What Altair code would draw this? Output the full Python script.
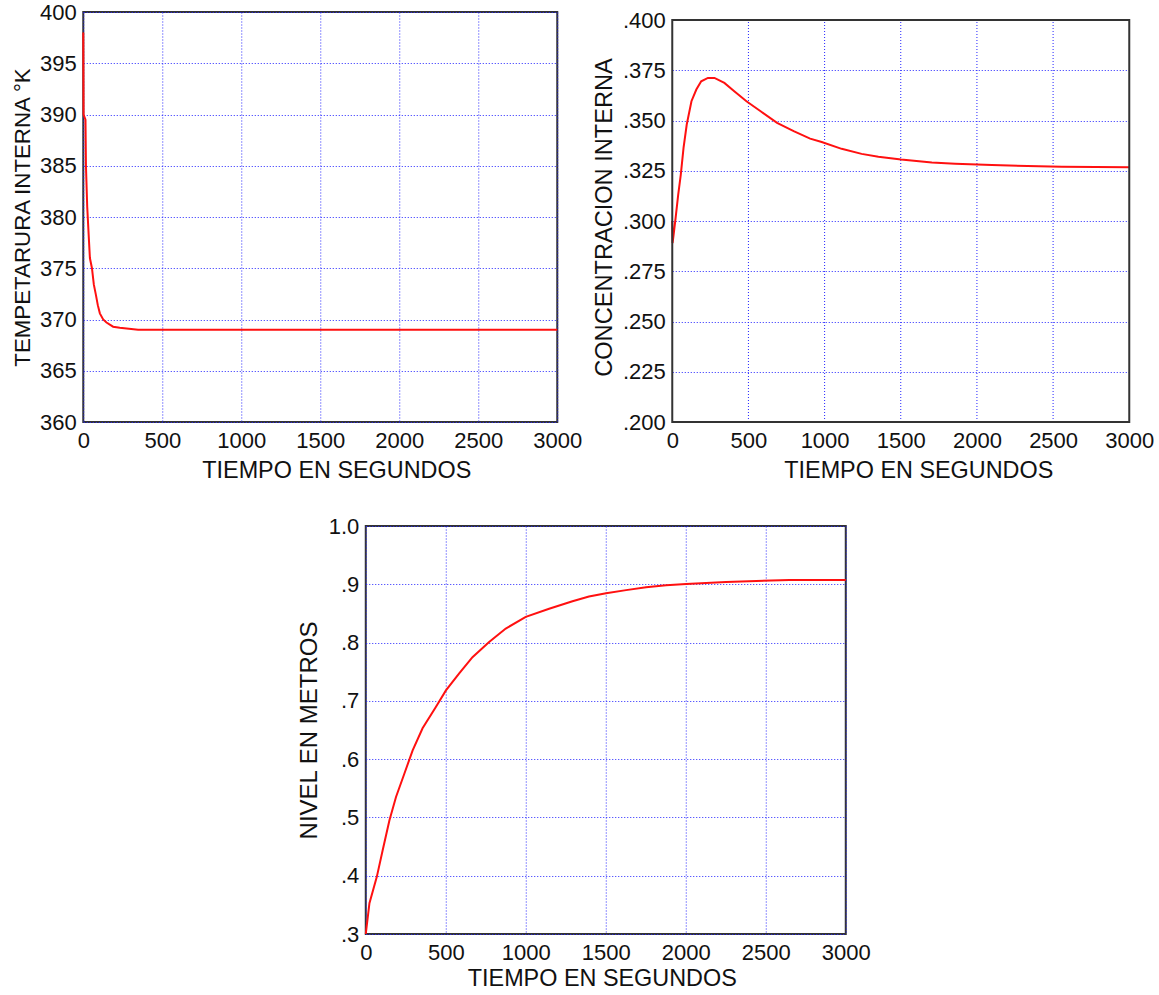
import altair as alt
import pandas as pd

# ---- data ----
temp_t = [0, 2, 14, 17, 25, 34, 42, 55, 67, 80, 92, 105, 126, 147, 189, 231, 347, 3000]
temp_v = [398.0, 390.0, 389.5, 385.0, 381.0, 378.3, 376.0, 375.0, 373.4, 372.4, 371.4, 370.6,
          370.0, 369.7, 369.3, 369.2, 369.0, 369.0]

conc_t = [0, 2, 9, 22, 39, 56, 74, 95, 126, 158, 190, 234, 277, 342, 407, 487, 580, 688, 797,
          905, 981, 1112, 1243, 1353, 1502, 1704, 1857, 2098, 2558, 3000]
conc_v = [0.300, 0.289, 0.2932, 0.3015, 0.3131, 0.3231, 0.3364, 0.348, 0.3596, 0.3654, 0.3695,
          0.3712, 0.3712, 0.3687, 0.3646, 0.3596, 0.3546, 0.3488, 0.3447, 0.341, 0.3393, 0.3359,
          0.3334, 0.332, 0.3306, 0.3291, 0.3285, 0.3278, 0.3270, 0.3267]

level_t = [0, 23, 69, 106, 148, 189, 241, 293, 355, 439, 501, 584, 667, 771, 875, 1000, 1146,
           1292, 1395, 1502, 1627, 1752, 1877, 2002, 2252, 2648, 3000]
level_v = [0.30, 0.353, 0.398, 0.444, 0.495, 0.535, 0.575, 0.615, 0.653, 0.690, 0.718, 0.747,
           0.775, 0.801, 0.824, 0.844, 0.858, 0.871, 0.879, 0.8846, 0.890, 0.8949, 0.8983,
           0.9006, 0.904, 0.9074, 0.9074]

x_ticks = [0, 500, 1000, 1500, 2000, 2500, 3000]
temp_ticks = [360, 365, 370, 375, 380, 385, 390, 395, 400]
conc_ticks = [0.200, 0.225, 0.250, 0.275, 0.300, 0.325, 0.350, 0.375, 0.400]
level_ticks = [0.3, 0.4, 0.5, 0.6, 0.7, 0.8, 0.9, 1.0]

x_title = "TIEMPO EN SEGUNDOS"
FONT = "Liberation Sans"
GRID = "#2424ff"
FRAME = "#333333"
RED = "#ff1010"


def panel(t, v, ytitle, domain, ticks, label_expr, w, h, ytitle_pad, ytitle_size, xtitle_x,
          xtitle_pad):
    df = pd.DataFrame({"t": t, "v": v, "i": list(range(len(t)))})
    return alt.Chart(df).mark_line(color=RED, strokeWidth=2).encode(
        x=alt.X("t:Q", scale=alt.Scale(domain=[0, 3000], nice=False),
                axis=alt.Axis(values=x_ticks, title=x_title, format="d", titleX=xtitle_x,
                              titlePadding=xtitle_pad)),
        y=alt.Y("v:Q", scale=alt.Scale(domain=domain, nice=False, zero=False),
                axis=alt.Axis(values=ticks, title=ytitle, labelExpr=label_expr,
                              titlePadding=ytitle_pad, titleFontSize=ytitle_size)),
        order="i:Q",
    ).properties(width=w, height=h)


c_temp = panel(temp_t, temp_v, "TEMPETARURA INTERNA °K", [360, 400], temp_ticks,
               "format(datum.value, 'd')", 474, 410, 5, 22.3, 253, 8)
c_level = panel(level_t, level_v, "NIVEL EN METROS", [0.3, 1.0], level_ticks,
                "datum.value >= 1 ? '1.0' : substring(format(datum.value, '.1f'), 1)",
                480, 408, 7, 24, 236, 4)

# concentration panel: its frame starts a little lower than the temperature one,
# so the plot is taller than the frame and the frame/vertical grid are drawn as marks
conc_top = 0.2 + 0.2 * 410 / 402
cx = alt.X("t:Q", scale=alt.Scale(domain=[0, 3000], nice=False),
           axis=alt.Axis(values=x_ticks, title=x_title, format="d", grid=False, titleX=246))
cy = alt.Y("v:Q", scale=alt.Scale(domain=[0.2, conc_top], nice=False, zero=False),
           axis=alt.Axis(values=conc_ticks, title="CONCENTRACION INTERNA",
                         labelExpr="substring(format(datum.value, '.3f'), 1)",
                         titlePadding=6, titleFontSize=23.6))
conc_df = pd.DataFrame({"t": conc_t, "v": conc_v, "i": list(range(len(conc_t)))})
vgrid_df = pd.DataFrame({"t": x_ticks[1:-1], "v": [0.2] * 5, "v2": [0.4] * 5})
frame_df = pd.DataFrame({"t": [0], "t2": [3000], "v": [0.2], "v2": [0.4]})

conc_grid = alt.Chart(vgrid_df).mark_rule(color=GRID, strokeWidth=1, strokeDash=[1, 2]).encode(
    x=cx, y=cy, y2="v2:Q")
conc_line = alt.Chart(conc_df).mark_line(color=RED, strokeWidth=2).encode(
    x=cx, y=cy, order="i:Q")
conc_frame = alt.Chart(frame_df).mark_rect(fillOpacity=0, stroke=FRAME, strokeWidth=2).encode(
    x=cx, x2="t2:Q", y=cy, y2="v2:Q")
c_conc = alt.layer(conc_grid, conc_line, conc_frame).properties(
    width=457, height=410, view=alt.ViewBackground(strokeWidth=0, strokeOpacity=0))

top = alt.hconcat(c_temp, c_conc, spacing=9)
chart = alt.vconcat(top, c_level, spacing=31, center=True).properties(
    padding={"left": 10, "top": 0, "right": 0, "bottom": 0}
).configure(
    background="white"
).configure_view(
    stroke=FRAME, strokeWidth=2
).configure_axis(
    grid=True, gridColor=GRID, gridDash=[1, 2], gridWidth=1, gridOpacity=1,
    domain=False, ticks=False, labelFlush=False, labelOverlap=False,
    labelFont=FONT, labelFontSize=22, labelColor="#111111", labelPadding=8,
    titleFont=FONT, titleFontSize=23.4, titleFontWeight="normal", titleColor="#111111",
    titlePadding=8,
).configure_axisY(labelPadding=7)

chart.save("out.html", embed_options={"renderer": "svg", "actions": False})
